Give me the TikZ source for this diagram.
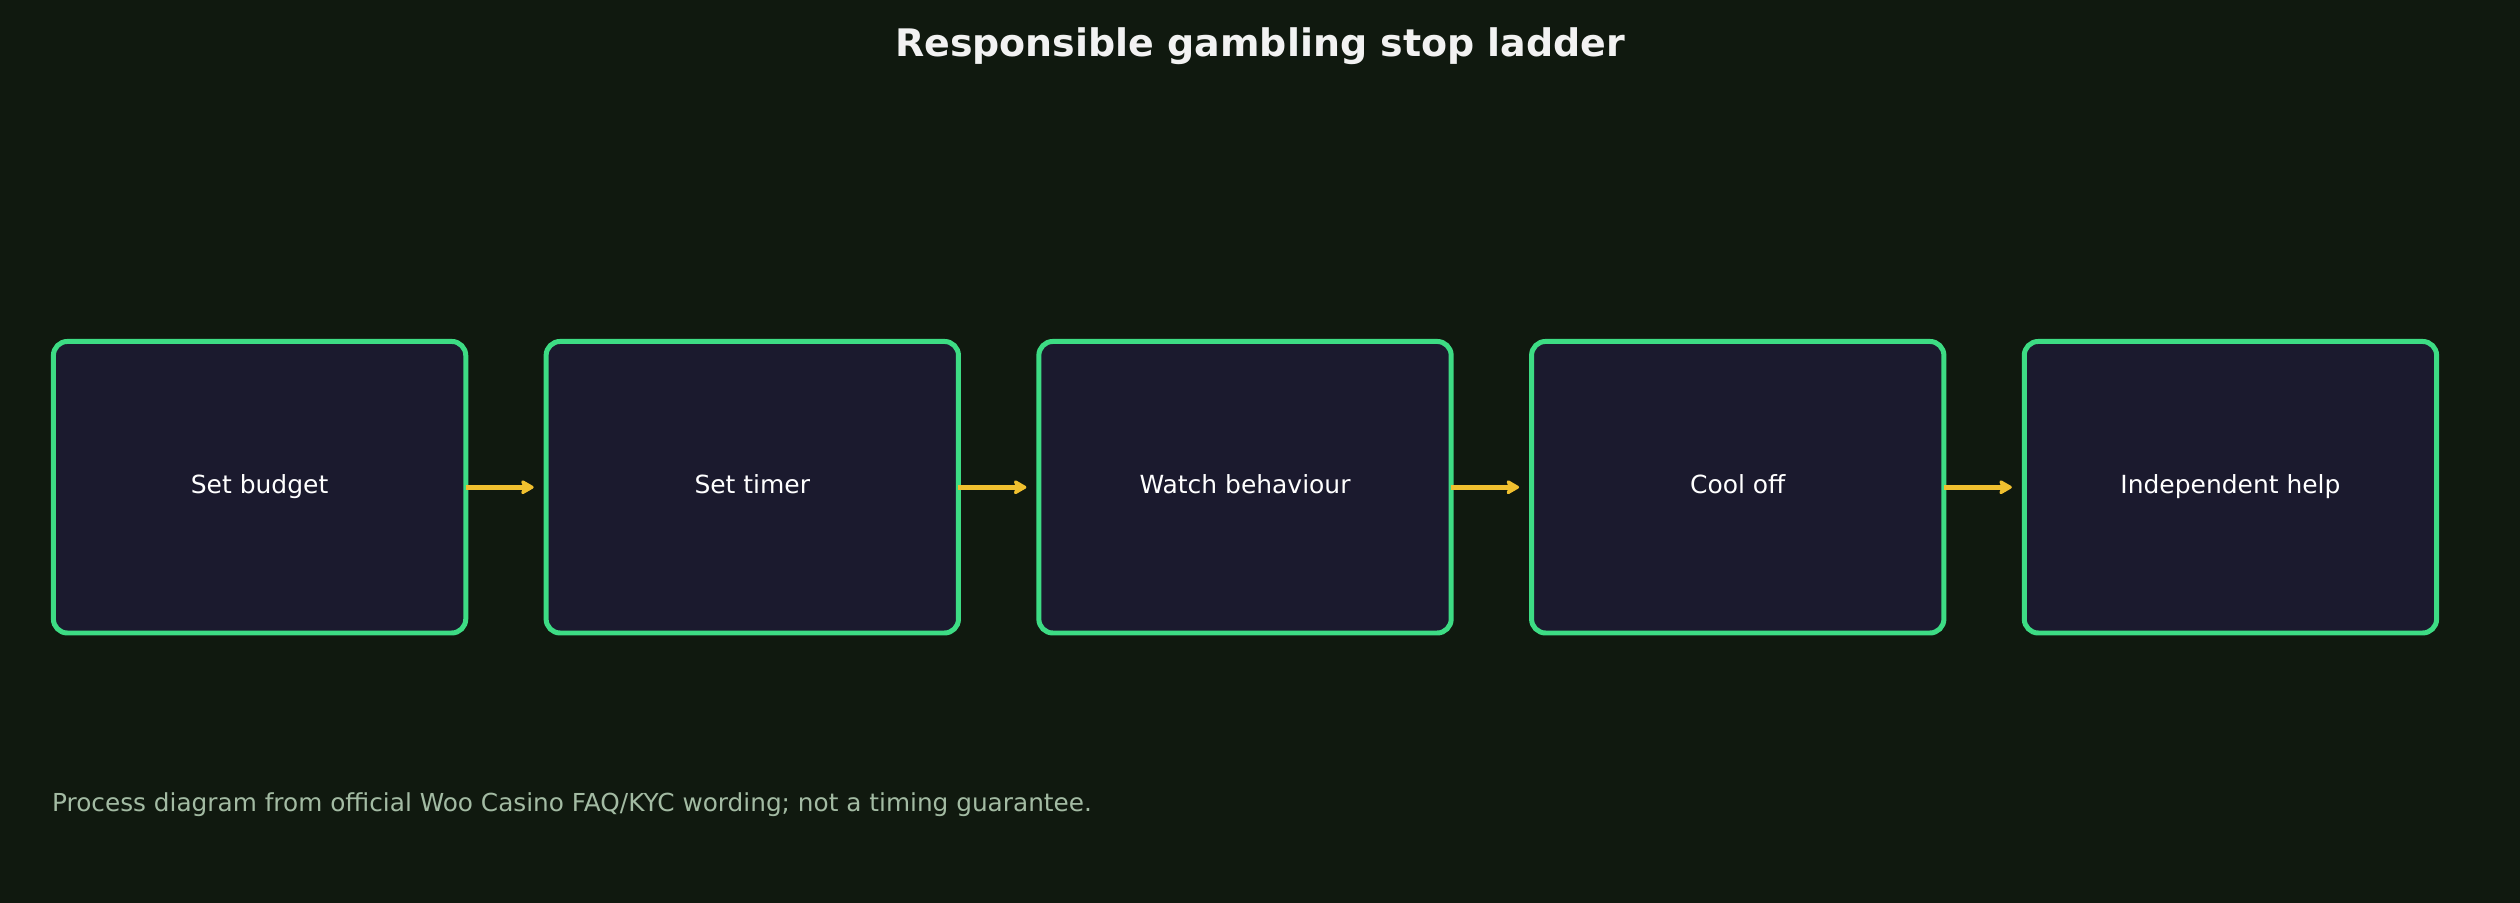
\documentclass[tikz,border=0pt]{standalone}
\usepackage{fontspec}
\setmainfont{DejaVu Sans}
\usepackage{tikz}
\usetikzlibrary{matrix,positioning,arrows.meta}
\usepackage{xcolor}
\definecolor{pagebg}{HTML}{10190F}
\definecolor{stepfill}{HTML}{1B1A2E}
\definecolor{stepline}{HTML}{3DDC84}
\definecolor{flowarrow}{HTML}{F0C02F}
\definecolor{notegray}{HTML}{A3BBA3}

\begin{document}
\begin{tikzpicture}[x=1pt,y=-1pt,
            stepbox/.style={rectangle,draw=stepline,fill=stepfill,line width=5pt,rounded corners=14pt,
               minimum width=413pt,minimum height=292pt,outer sep=0pt,inner sep=0pt,
               text height=18pt,text depth=5pt,text=white,font=\fontsize{25}{30}\selectfont},
            ladder/.style={matrix of nodes,column sep=75.5pt,inner sep=0pt,nodes={stepbox}},
            flow/.style={draw=flowarrow,line width=5pt,-{Stealth[length=15pt,width=17pt,inset=3pt,round]}}]

            \fill[pagebg] (-2,-2) rectangle (2522,902);
            \useasboundingbox (0,0) rectangle (2520,900);

            \node[anchor=base,text=white!95!black,font=\fontsize{38}{45}\selectfont\bfseries] (title) at (1260,55) {Responsible gambling stop ladder};

            \matrix (steps)[ladder] at (1245,486)
            {
               {Set budget} & {Set timer} & {Watch behaviour} & {Cool off} & {Independent help}\\
            };

            \draw[flow] (steps-1-1.east) -- ([xshift=-12.5pt]steps-1-2.west);
            \draw[flow] (steps-1-2.east) -- ([xshift=-12.5pt]steps-1-3.west);
            \draw[flow] (steps-1-3.east) -- ([xshift=-12.5pt]steps-1-4.west);
            \draw[flow] (steps-1-4.east) -- ([xshift=-12.5pt]steps-1-5.west);

            \node[anchor=base west,inner sep=0pt,text=notegray,font=\fontsize{24.8}{30}\selectfont] (note) at (50,811) {Process diagram from official Woo Casino FAQ/KYC wording; not a timing guarantee.};
         \end{tikzpicture}
\end{document}
